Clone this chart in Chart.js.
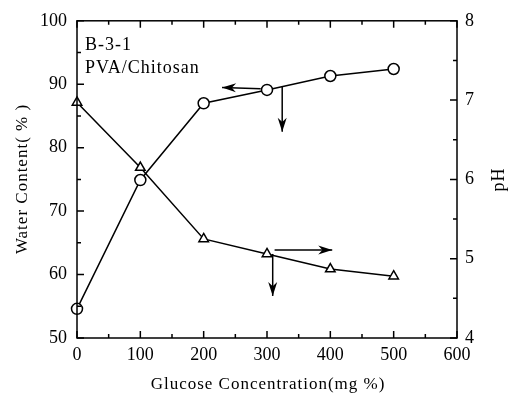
<!DOCTYPE html>
<html><head><meta charset="utf-8">
<script src="https://cdn.jsdelivr.net/npm/chart.js@4"></script>
<style>html,body{margin:0;padding:0;background:#fff}#c{display:block}</style>
</head><body>
<canvas id="c" width="510" height="396"></canvas>
<script>
const glucose = [0, 100, 200, 300, 400, 500];
const waterContent = [54.6, 74.9, 87.0, 89.1, 91.3, 92.4];
const pH = [6.97, 6.15, 5.25, 5.06, 4.87, 4.78];
const xTicks = [0, 100, 200, 300, 400, 500, 600];
const waterTicks = [50, 60, 70, 80, 90, 100];
const pHTicks = [4, 5, 6, 7, 8];
const noteLines = ["B-3-1", "PVA/Chitosan"];
const xTitle = "Glucose Concentration(mg %)";
const yTitle = "Water Content( % )";
const y2Title = "pH";
// arrows in data units: [axisId, x1, y1, x2, y2]
const arrows = [
  ["y", 290, 89.3, 229, 89.5],
  ["y", 324, 89.6, 324, 82.5],
  ["y2", 312, 5.11, 403, 5.11],
  ["y2", 309, 5.06, 309, 4.53]
];
const FONT = "'Liberation Serif', 'DejaVu Serif', serif";

const frame = {
  id: 'frame',
  afterDraw(chart) {
    const {ctx, chartArea: a, scales} = chart;
    const x = scales.x, y = scales.y, y2 = scales.y2;
    ctx.save();
    ctx.strokeStyle = '#000';
    ctx.lineWidth = 1.5;
    ctx.strokeRect(a.left, a.top, a.right - a.left, a.bottom - a.top);
    ctx.beginPath();
    for (let v = 0; v <= 600; v += 50) {
      const px = x.getPixelForValue(v);
      const L = v % 100 === 0 ? 7 : 4;
      ctx.moveTo(px, a.bottom); ctx.lineTo(px, a.bottom - L);
      ctx.moveTo(px, a.top); ctx.lineTo(px, a.top + L);
    }
    for (let v = 50; v <= 100; v += 5) {
      const py = y.getPixelForValue(v);
      const L = v % 10 === 0 ? 7 : 4;
      ctx.moveTo(a.left, py); ctx.lineTo(a.left + L, py);
    }
    for (let v = 4; v <= 8; v += 0.5) {
      const py = y2.getPixelForValue(v);
      const L = Number.isInteger(v) ? 7 : 4;
      ctx.moveTo(a.right, py); ctx.lineTo(a.right - L, py);
    }
    ctx.stroke();
    // arrows
    arrows.forEach(([ax, x1, y1, x2, y2v]) => {
      const s = scales[ax];
      const p1 = [x.getPixelForValue(x1), s.getPixelForValue(y1)];
      const p2 = [x.getPixelForValue(x2), s.getPixelForValue(y2v)];
      ctx.beginPath(); ctx.moveTo(p1[0], p1[1]); ctx.lineTo(p2[0], p2[1]); ctx.stroke();
      const ang = Math.atan2(p2[1] - p1[1], p2[0] - p1[0]);
      const hl = 14, hw = 4.5;
      ctx.beginPath();
      ctx.moveTo(p2[0], p2[1]);
      ctx.lineTo(p2[0] - hl * Math.cos(ang) + hw * Math.sin(ang), p2[1] - hl * Math.sin(ang) - hw * Math.cos(ang));
      ctx.lineTo(p2[0] - hl * 0.7 * Math.cos(ang), p2[1] - hl * 0.7 * Math.sin(ang));
      ctx.lineTo(p2[0] - hl * Math.cos(ang) - hw * Math.sin(ang), p2[1] - hl * Math.sin(ang) + hw * Math.cos(ang));
      ctx.closePath();
      ctx.fillStyle = '#000';
      ctx.fill();
    });
    // texts
    ctx.fillStyle = '#000';
    ctx.letterSpacing = '1px';
    ctx.font = '18px ' + FONT;
    ctx.textBaseline = 'alphabetic';
    ctx.textAlign = 'left';
    ctx.fillText(noteLines[0], a.left + 8, a.top + 29);
    ctx.fillText(noteLines[1], a.left + 8, a.top + 52);
    // x title
    ctx.font = '17px ' + FONT;
    ctx.textAlign = 'center';
    ctx.textBaseline = 'middle';
    ctx.fillText(xTitle, (a.left + a.right) / 2 + 1, 385);
    // y title
    ctx.save();
    ctx.translate(23, 179);
    ctx.rotate(-Math.PI / 2);
    ctx.fillText(yTitle, 0, 0);
    ctx.restore();
    // pH title
    ctx.save();
    ctx.translate(499, (a.top + a.bottom) / 2);
    ctx.rotate(-Math.PI / 2);
    ctx.font = '18px ' + FONT;
    ctx.fillText(y2Title, 0, 0);
    ctx.restore();
    ctx.restore();
  }
};

new Chart(document.getElementById('c'), {
  type: 'line',
  data: {
    datasets: [
      {
        label: 'Water Content',
        data: glucose.map((g, i) => ({x: g, y: waterContent[i]})),
        yAxisID: 'y',
        borderColor: '#000', borderWidth: 1.5,
        pointStyle: 'circle', pointRadius: 5.5, pointBorderWidth: 1.5,
        pointBackgroundColor: '#fff', pointBorderColor: '#000',
        tension: 0, fill: false
      },
      {
        label: 'pH',
        data: glucose.map((g, i) => ({x: g, y: pH[i]})),
        yAxisID: 'y2',
        borderColor: '#000', borderWidth: 1.5,
        pointStyle: 'triangle', pointRadius: 5.5, pointBorderWidth: 1.5,
        pointBackgroundColor: '#fff', pointBorderColor: '#000',
        tension: 0, fill: false
      }
    ]
  },
  options: {
    responsive: false,
    animation: false,
    clip: false,
    layout: {padding: {top: 17, right: 0, left: 0, bottom: 0}},
    plugins: {legend: {display: false}, tooltip: {enabled: false}},
    scales: {
      x: {
        type: 'linear', min: 0, max: 600,
        afterBuildTicks(s) { s.ticks = xTicks.map(v => ({value: v})); },
        afterFit(s) { s.height = 58; },
        grid: {display: false, drawTicks: false},
        border: {display: false},
        ticks: {color: '#000', font: {family: FONT, size: 18}, padding: 6, maxRotation: 0}
      },
      y: {
        type: 'linear', position: 'left', min: 50, max: 100,
        afterBuildTicks(s) { s.ticks = waterTicks.map(v => ({value: v})); },
        afterFit(s) { s.width = 77; },
        grid: {display: false, drawTicks: false},
        border: {display: false},
        ticks: {color: '#000', font: {family: FONT, size: 18}, padding: 10}
      },
      y2: {
        type: 'linear', position: 'right', min: 4, max: 8,
        afterBuildTicks(s) { s.ticks = pHTicks.map(v => ({value: v})); },
        afterFit(s) { s.width = 53; },
        grid: {display: false, drawTicks: false},
        border: {display: false},
        ticks: {color: '#000', font: {family: FONT, size: 18}, padding: 8}
      }
    }
  },
  plugins: [frame]
});
</script>
</body></html>
